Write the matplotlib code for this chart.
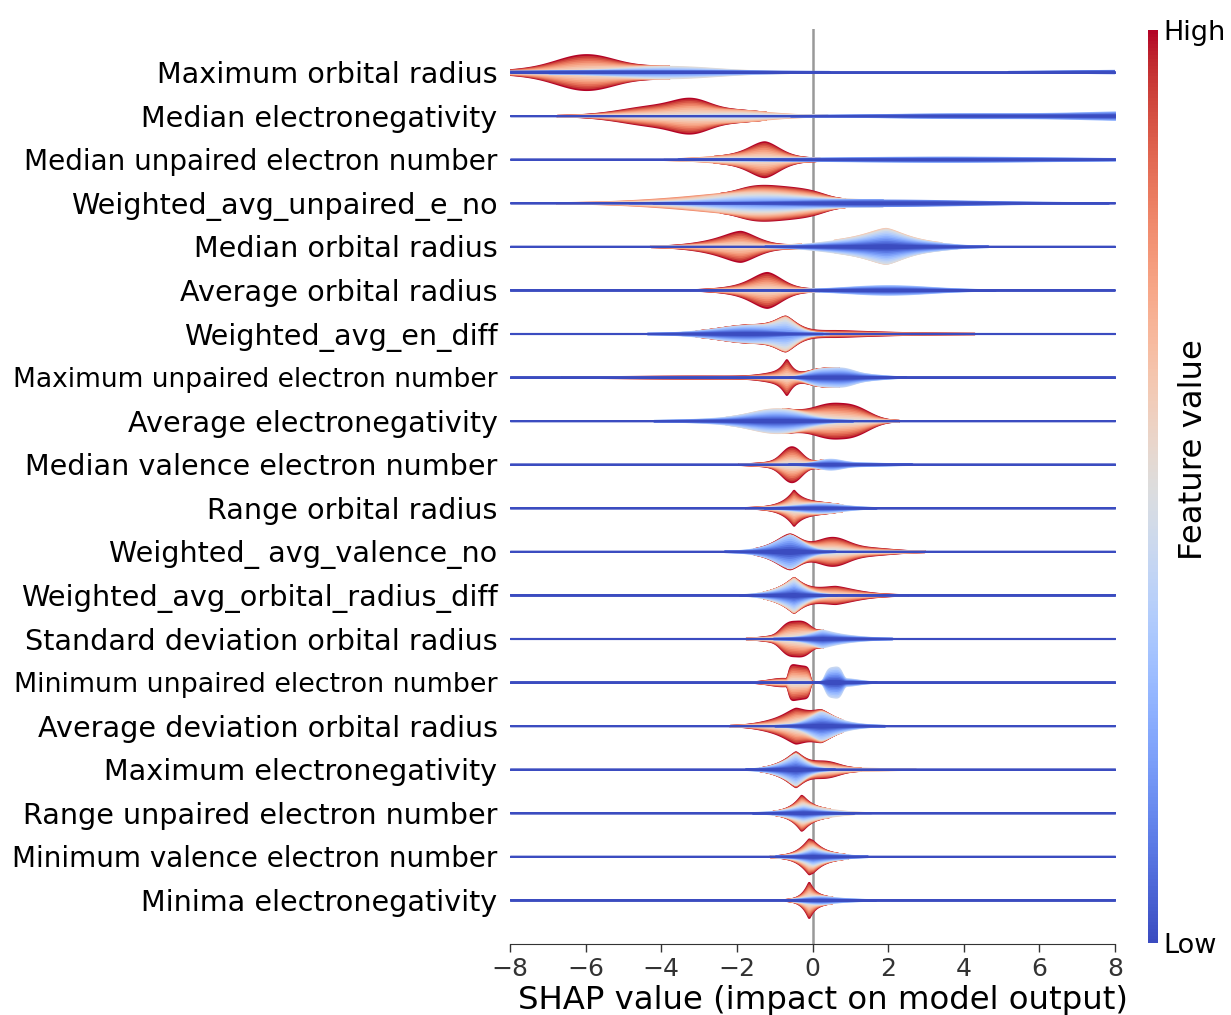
import matplotlib
matplotlib.use("Agg")
import matplotlib.pyplot as plt
import numpy as np
from matplotlib import cm, colors

# features, top to bottom
features = [
    "Maximum orbital radius",
    "Median electronegativity",
    "Median unpaired electron number",
    "Weighted_avg_unpaired_e_no",
    "Median orbital radius",
    "Average orbital radius",
    "Weighted_avg_en_diff",
    "Maximum unpaired electron number",
    "Average electronegativity",
    "Median valence electron number",
    "Range orbital radius",
    "Weighted_ avg_valence_no",
    "Weighted_avg_orbital_radius_diff",
    "Standard deviation orbital radius",
    "Minimum unpaired electron number",
    "Average deviation orbital radius",
    "Maximum electronegativity",
    "Range unpaired electron number",
    "Minimum valence electron number",
    "Minima electronegativity",
]

# shap value groups, one list per feature:
# (shap centre, spread, relative height, feature value low, feature value high, kernel power)
max_orbital_radius = [(-6.0, 0.75, 0.85, 0.55, 1.0, 2), (-7.3, 0.9, 0.12, 0.6, 1.0, 2),
                      (-3.8, 1.2, 0.25, 0.25, 0.55, 2), (-4.5, 2.2, 0.08, 0.0, 0.25, 2),
                      (8.4, 1.4, 0.07, 0.0, 0.2, 2)]
median_en = [(-3.2, 0.45, 0.45, 0.55, 1.0, 2), (-4.0, 1.0, 0.55, 0.5, 1.0, 2),
             (-2.0, 0.9, 0.25, 0.4, 0.7, 2), (9.0, 1.8, 0.22, 0.0, 0.3, 2),
             (4.0, 2.0, 0.1, 0.0, 0.3, 2)]
median_unpaired = [(-1.27, 0.38, 0.85, 0.55, 1.0, 1.7), (-2.0, 0.8, 0.18, 0.4, 0.8, 2),
                   (3.5, 3.0, 0.12, 0.0, 0.3, 2)]
wavg_unpaired = [(-0.8, 1.0, 0.45, 0.6, 1.0, 4), (-1.5, 1.2, 0.55, 0.2, 0.6, 2),
                 (-3.5, 1.3, 0.2, 0.5, 0.8, 2), (1.8, 2.3, 0.17, 0.0, 0.2, 2)]
median_orbital_radius = [(-1.9, 0.42, 0.72, 0.55, 1.0, 1.6), (-2.6, 0.7, 0.2, 0.55, 1.0, 2),
                         (1.95, 0.45, 0.7, 0.0, 0.5, 1.5), (1.0, 0.9, 0.3, 0.0, 0.5, 2),
                         (3.0, 0.7, 0.15, 0.0, 0.4, 2), (2.0, 0.6, 0.06, 0.5, 0.65, 2)]
avg_orbital_radius = [(-1.2, 0.38, 0.95, 0.55, 1.0, 1.7), (-1.9, 0.6, 0.15, 0.5, 1.0, 2),
                      (2.0, 1.1, 0.25, 0.0, 0.35, 2)]
wavg_en_diff = [(-1.6, 0.7, 0.4, 0.0, 0.45, 2), (-2.6, 0.8, 0.12, 0.0, 0.4, 2),
                (-0.72, 0.25, 0.75, 0.2, 0.6, 1.5), (0.6, 1.0, 0.17, 0.7, 1.0, 1.4)]
max_unpaired = [(-0.69, 0.1, 0.75, 0.55, 1.0, 1.2), (-0.9, 0.45, 0.2, 0.55, 1.0, 2),
                (-3.0, 2.0, 0.05, 0.6, 1.0, 2), (0.45, 0.55, 0.45, 0.0, 0.45, 3),
                (1.3, 0.5, 0.15, 0.0, 0.4, 2)]
avg_en = [(-0.9, 0.7, 0.5, 0.0, 0.45, 2), (-2.0, 1.0, 0.12, 0.0, 0.45, 2),
          (-0.8, 0.6, 0.08, 0.45, 0.6, 2), (0.75, 0.65, 0.9, 0.5, 1.0, 2.5)]
median_valence = [(-0.55, 0.25, 0.9, 0.5, 1.0, 2), (-0.9, 0.5, 0.12, 0.5, 1.0, 2),
                  (0.45, 0.3, 0.22, 0.0, 0.4, 2), (1.0, 0.8, 0.08, 0.0, 0.4, 2)]
range_orbital_radius = [(-0.5, 0.15, 0.8, 0.5, 1.0, 1), (0.2, 0.6, 0.22, 0.0, 0.45, 2)]
wavg_valence = [(-0.6, 0.3, 0.8, 0.0, 0.4, 1.6), (-1.0, 0.55, 0.2, 0.0, 0.4, 2),
                (-0.65, 0.3, 0.07, 0.85, 1.0, 1.6), (0.5, 0.4, 0.7, 0.45, 1.0, 2),
                (1.3, 0.7, 0.22, 0.5, 1.0, 2)]
wavg_orbital_radius_diff = [(-0.5, 0.18, 0.65, 0.0, 0.5, 1.2), (-0.7, 0.5, 0.25, 0.0, 0.5, 2),
                            (-0.5, 0.2, 0.08, 0.5, 0.6, 1.2), (0.6, 0.5, 0.5, 0.55, 1.0, 1.5)]
std_orbital_radius = [(-0.45, 0.35, 0.95, 0.5, 1.0, 3), (-1.0, 0.35, 0.15, 0.5, 1.0, 2),
                      (0.25, 0.28, 0.45, 0.0, 0.45, 1.3), (0.8, 0.6, 0.12, 0.0, 0.45, 2)]
min_unpaired = [(-0.36, 0.26, 0.9, 0.5, 1.0, 8), (-0.8, 0.35, 0.22, 0.5, 1.0, 2),
                (0.55, 0.2, 0.75, 0.0, 0.45, 4), (0.85, 0.35, 0.2, 0.0, 0.45, 2)]
avgdev_orbital_radius = [(-0.45, 0.3, 0.75, 0.5, 1.0, 1.5), (-1.0, 0.5, 0.2, 0.5, 1.0, 2),
                         (0.22, 0.3, 0.7, 0.0, 0.45, 1.5), (0.8, 0.5, 0.12, 0.0, 0.45, 2)]
max_en = [(-0.45, 0.2, 0.65, 0.0, 0.5, 1.3), (-0.7, 0.45, 0.18, 0.0, 0.5, 2),
          (-0.45, 0.25, 0.1, 0.75, 1.0, 1.3), (0.35, 0.35, 0.35, 0.5, 1.0, 2),
          (1.2, 0.7, 0.05, 0.5, 0.7, 2)]
range_unpaired = [(-0.3, 0.12, 0.55, 0.5, 1.0, 1.1), (-0.25, 0.3, 0.4, 0.0, 0.5, 1.3),
                  (0.4, 0.45, 0.1, 0.4, 0.6, 2)]
min_valence = [(-0.1, 0.16, 0.6, 0.45, 1.0, 1.1), (0.0, 0.22, 0.35, 0.0, 0.45, 1.3),
               (0.6, 0.4, 0.08, 0.0, 0.4, 2)]
minima_en = [(-0.1, 0.09, 0.8, 0.5, 1.0, 1.1), (0.1, 0.35, 0.15, 0.0, 0.45, 2),
             (0.7, 0.5, 0.06, 0.0, 0.4, 2)]

groups = [max_orbital_radius, median_en, median_unpaired, wavg_unpaired,
          median_orbital_radius, avg_orbital_radius, wavg_en_diff, max_unpaired,
          avg_en, median_valence, range_orbital_radius, wavg_valence,
          wavg_orbital_radius_diff, std_orbital_radius, min_unpaired,
          avgdev_orbital_radius, max_en, range_unpaired, min_valence, minima_en]

# a few long names were shrunk to fit
label_sizes = [20.65, 20.65, 20.1, 20.65, 20.65, 20.65, 20.65, 19.1, 20.65, 20.65,
               20.65, 20.65, 20.7, 20.65, 19.4, 20.65, 20.65, 20.65, 20, 20.65]

n_bins = 20
x = np.linspace(-8, 8, 1201)
levels = np.linspace(0, 1, n_bins)
cmap = plt.get_cmap("coolwarm")


def layers(group):
    ys = np.zeros((n_bins, x.size))
    for c, s, h, lo, hi, p in group:
        idx = np.where((levels >= lo - 1e-9) & (levels <= hi + 1e-9))[0]
        ys[idx] += h * np.exp(-0.5 * np.abs((x - c) / s) ** p) / len(idx)
    ys = np.cumsum(ys, axis=0)
    return ys / ys[-1].max() * 0.4


fig = plt.figure(figsize=(12.31, 10.15), dpi=100)
ax = fig.add_axes([510 / 1231, 71.5 / 1015, 605 / 1231, 915 / 1015])

ax.axvline(0, color="#999999", lw=1.8, zorder=-1)
n = len(features)
for k, group in enumerate(groups):
    pos = n - 1 - k
    ys = layers(group)
    for i in range(n_bins - 1, -1, -1):
        c = cmap(i / (n_bins - 1))
        # leave out only the parts where a layer adds next to nothing (no red fringe on blue tails)
        show = np.ones(x.size, bool) if i == 0 else (ys[i] - ys[i - 1]) > 0.0005
        if not show.any():
            continue
        ax.fill_between(x, pos - ys[i], pos + ys[i], where=show,
                        facecolor=c, edgecolor=c, linewidth=1.5)

ax.set_xlim(-8, 8)
ax.set_ylim(-1, n)
for side in ["top", "right", "left"]:
    ax.spines[side].set_visible(False)
ax.spines["bottom"].set_color("#333333")

ax.set_yticks(range(n))
ax.set_yticklabels(features[::-1])
for lab, size in zip(ax.get_yticklabels(), label_sizes[::-1]):
    lab.set_fontsize(size)
ax.tick_params("y", length=0, pad=9)
ax.set_xticks(range(-8, 9, 2))
ax.tick_params("x", labelsize=18, colors="#333333", length=6, width=1)
ax.set_xlabel("SHAP value (impact on model output)", fontsize=23.3, labelpad=3,
              x=0.518, ha="center")

cax = fig.add_axes([1148 / 1231, 72 / 1015, 10 / 1231, 913 / 1015])
sm = cm.ScalarMappable(norm=colors.Normalize(0, 1), cmap=cmap)
cb = fig.colorbar(sm, cax=cax, ticks=[0, 1])
cb.set_ticklabels(["Low", "High"])
cb.outline.set_visible(False)
cax.tick_params(length=0, labelsize=19.5, pad=4)
fig.text(1193 / 1231, 1 - 450 / 1015, "Feature value", rotation=90,
         ha="center", va="center", fontsize=23.3)

fig.savefig("out.png", dpi=100)
